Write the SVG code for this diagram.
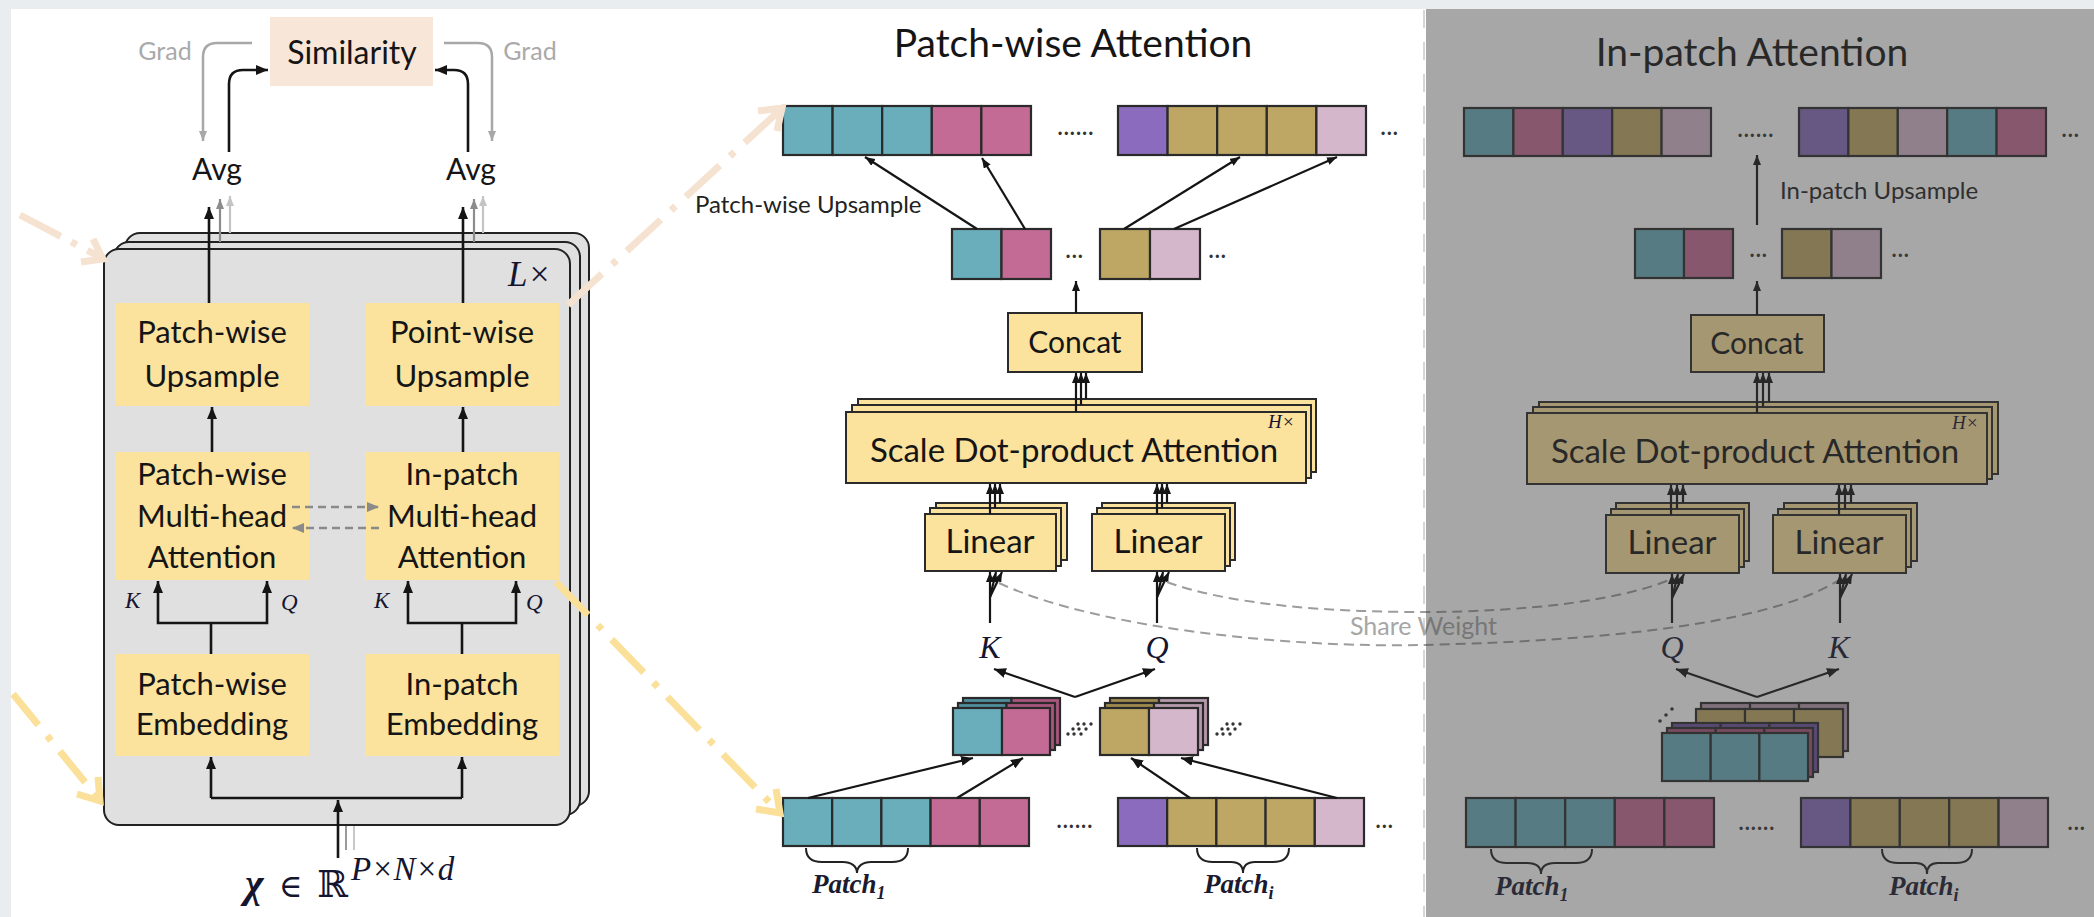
<svg xmlns="http://www.w3.org/2000/svg" width="2094" height="917" viewBox="0 0 2094 917">
<defs>
<style>
.t{font-family:Lato,"Liberation Sans",sans-serif;fill:#151515;text-anchor:middle}
.m{font-family:"Liberation Serif","DejaVu Serif",serif;font-style:italic;fill:#151530}
.pl{font-family:"Liberation Serif","DejaVu Serif",serif;font-style:italic;font-weight:bold;fill:#1a1a30;font-size:27px}
.yb{fill:#fbe29d}
.yl{fill:#fbe29d;stroke:#2a2a2a;stroke-width:2}
.cl{stroke:#2a2a2a;stroke-width:2.2}
.teal{fill:#6aaebc}.pink{fill:#c46b95}.purp{fill:#8a6bbd}.olive{fill:#bea764}.lp{fill:#d5b7cc}
.teal2{fill:#4f8e9a}.pink2{fill:#a8567d}.olive2{fill:#9f8a4e}.lp2{fill:#b49aac}.purp2{fill:#6f54a0}
.ln{stroke:#151515;stroke-width:2.6;fill:none}
.lm{stroke:#151515;stroke-width:2.2;fill:none}
.br{stroke:#222;stroke-width:2;fill:none}
.dd{fill:#333}
.dots{font-family:Lato,"Liberation Sans",sans-serif;fill:#333;font-size:26px}
</style>
<marker id="ah" markerUnits="userSpaceOnUse" markerWidth="12" markerHeight="10" refX="12" refY="5" orient="auto"><path d="M0,0 L12,5 L0,10 z" fill="#151515"/></marker>
<marker id="ahs" markerUnits="userSpaceOnUse" markerWidth="10" markerHeight="8" refX="10" refY="4" orient="auto"><path d="M0,0 L10,4 L0,8 z" fill="#151515"/></marker>
<marker id="ahg" markerUnits="userSpaceOnUse" markerWidth="10" markerHeight="8" refX="10" refY="4" orient="auto"><path d="M0,0 L10,4 L0,8 z" fill="#a8a8a8"/></marker>
<marker id="ahg2" markerUnits="userSpaceOnUse" markerWidth="12" markerHeight="10" refX="12" refY="5" orient="auto"><path d="M0,0 L12,5 L0,10 z" fill="#8a8a8a"/></marker>
<marker id="ahm" markerUnits="userSpaceOnUse" markerWidth="10" markerHeight="8" refX="10" refY="4" orient="auto"><path d="M0,0 L10,4 L0,8 z" fill="#8c8c8c"/></marker>
<marker id="ahl" markerUnits="userSpaceOnUse" markerWidth="10" markerHeight="8" refX="10" refY="4" orient="auto"><path d="M0,0 L10,4 L0,8 z" fill="#c4c4c4"/></marker>
</defs>

<rect x="0" y="0" width="2094" height="917" fill="#e9edf0"/>
<rect x="11" y="9" width="2083" height="908" fill="#ffffff"/>
<line x1="1424" y1="10" x2="1424" y2="917" stroke="#d6d6d6" stroke-width="2" stroke-dasharray="18 14"/>

<!-- ============ LEFT PANEL ============ -->
<g id="similarity">
<rect x="270" y="17" width="163" height="69" fill="#f8e6d8"/>
<text class="t" x="352" y="64" font-size="32">Similarity</text>
</g>
<g id="grad-left"><text class="t" x="165" y="60" font-size="25" style="fill:#a9a9a9">Grad</text></g>
<g id="grad-right"><text class="t" x="530" y="60" font-size="25" style="fill:#a9a9a9">Grad</text></g>
<g id="avg-left"><text class="t" x="217" y="180" font-size="30">Avg</text></g>
<g id="avg-right"><text class="t" x="471" y="180" font-size="30">Avg</text></g>

<g id="encoder-stack">
<rect x="125" y="233" width="464" height="573" rx="15" fill="#e0e0e0" stroke="#222" stroke-width="2"/>
<rect x="114" y="242" width="466" height="573" rx="15" fill="#e0e0e0" stroke="#222" stroke-width="2"/>
<line x1="346" y1="850" x2="346" y2="826" stroke="#9a9a9a" stroke-width="2"/>
<line x1="354" y1="850" x2="354" y2="826" stroke="#c8c8c8" stroke-width="2"/>
<rect x="104" y="249" width="466" height="576" rx="15" fill="#e0e0e0" stroke="#222" stroke-width="2"/>
<text class="m" x="508" y="286" font-size="35">L×</text>
</g>

<g id="patchwise-upsample">
<rect class="yb" x="115" y="303" width="194" height="103"/>
<text class="t" x="212" y="343" font-size="31">Patch-wise</text>
<text class="t" x="212" y="387" font-size="31">Upsample</text>
</g>
<g id="pointwise-upsample">
<rect class="yb" x="365" y="303" width="194" height="103"/>
<text class="t" x="462" y="343" font-size="31">Point-wise</text>
<text class="t" x="462" y="387" font-size="31">Upsample</text>
</g>
<g id="patchwise-mha">
<rect class="yb" x="115" y="452" width="194" height="128"/>
<text class="t" x="212" y="485" font-size="31">Patch-wise</text>
<text class="t" x="212" y="527" font-size="31">Multi-head</text>
<text class="t" x="212" y="568" font-size="31">Attention</text>
</g>
<g id="inpatch-mha">
<rect class="yb" x="365" y="452" width="194" height="128"/>
<text class="t" x="462" y="485" font-size="31">In-patch</text>
<text class="t" x="462" y="527" font-size="31">Multi-head</text>
<text class="t" x="462" y="568" font-size="31">Attention</text>
</g>
<g id="patchwise-embedding">
<rect class="yb" x="115" y="654" width="194" height="102"/>
<text class="t" x="212" y="695" font-size="31">Patch-wise</text>
<text class="t" x="212" y="735" font-size="31">Embedding</text>
</g>
<g id="inpatch-embedding">
<rect class="yb" x="365" y="654" width="194" height="102"/>
<text class="t" x="462" y="695" font-size="31">In-patch</text>
<text class="t" x="462" y="735" font-size="31">Embedding</text>
</g>
<g id="kq-left-labels">
<text class="m" x="125" y="608" font-size="23">K</text>
<text class="m" x="281" y="610" font-size="23">Q</text>
<text class="m" x="374" y="608" font-size="23">K</text>
<text class="m" x="526" y="610" font-size="23">Q</text>
</g>
<g id="input-x">
<text x="245" y="897" font-family="Liberation Serif,DejaVu Serif,serif" font-size="40" font-style="italic" font-weight="bold" fill="#151530">χ</text>
<text x="279" y="897" font-family="DejaVu Serif,serif" font-size="32" fill="#151530">∈</text>
<text x="317" y="897" font-family="DejaVu Serif,serif" font-size="37" fill="#151530">ℝ</text>
<text class="m" x="351" y="880" font-size="33">P×N×d</text>
</g>

<!-- ============ MIDDLE PANEL ============ -->
<g id="title-patchwise"><text class="t" x="1073" y="57" font-size="39">Patch-wise Attention</text></g>

<g id="pw-top-row">
<rect class="cl teal" x="783" y="106" width="49.6" height="49"/>
<rect class="cl teal" x="832.6" y="106" width="49.6" height="49"/>
<rect class="cl teal" x="882.2" y="106" width="49.6" height="49"/>
<rect class="cl pink" x="931.8" y="106" width="49.6" height="49"/>
<rect class="cl pink" x="981.4" y="106" width="49.6" height="49"/>
<text class="dots" x="1057" y="135">......</text>
<rect class="cl purp" x="1118" y="106" width="49.6" height="49"/>
<rect class="cl olive" x="1167.6" y="106" width="49.6" height="49"/>
<rect class="cl olive" x="1217.2" y="106" width="49.6" height="49"/>
<rect class="cl olive" x="1266.8" y="106" width="49.6" height="49"/>
<rect class="cl lp" x="1316.4" y="106" width="49.6" height="49"/>
<text class="dots" x="1380" y="135">...</text>
</g>
<g id="pw-label"><text class="t" x="695" y="213" font-size="24" style="text-anchor:start;fill:#222">Patch-wise Upsample</text></g>
<g id="pw-mid-row">
<rect class="cl teal" x="952" y="229" width="49.5" height="50"/>
<rect class="cl pink" x="1001.5" y="229" width="49.5" height="50"/>
<text class="dots" x="1065" y="258">...</text>
<rect class="cl olive" x="1100" y="229" width="50" height="50"/>
<rect class="cl lp" x="1150" y="229" width="50" height="50"/>
<text class="dots" x="1208" y="258">...</text>
</g>
<g id="pw-concat">
<rect class="yl" x="1008" y="313" width="134" height="59"/>
<text class="t" x="1075" y="353" font-size="30">Concat</text>
</g>
<g id="pw-sdpa">
<rect class="yl" x="858" y="399" width="458" height="73"/>
<rect class="yl" x="852" y="405" width="459" height="73"/>
<rect class="yl" x="846" y="412" width="460" height="71"/>
<text class="m" x="1268" y="428" font-size="19">H×</text>
<text class="t" x="1074" y="462" font-size="33">Scale Dot-product Attention</text>
</g>
<g id="pw-linear-k">
<rect class="yl" x="936" y="503" width="131" height="57"/>
<rect class="yl" x="930" y="508" width="131" height="58"/>
<rect class="yl" x="925" y="514" width="131" height="57"/>
<text class="t" x="990" y="553" font-size="33">Linear</text>
</g>
<g id="pw-linear-q">
<rect class="yl" x="1102" y="503" width="133" height="57"/>
<rect class="yl" x="1097" y="508" width="133" height="58"/>
<rect class="yl" x="1092" y="514" width="133" height="57"/>
<text class="t" x="1158" y="553" font-size="33">Linear</text>
</g>
<g id="pw-kq">
<text class="m" x="990" y="658" font-size="32" text-anchor="middle">K</text>
<text class="m" x="1157" y="658" font-size="32" text-anchor="middle">Q</text>
</g>
<g id="pw-cubes">
<rect class="cl teal2" x="963" y="698" width="48.5" height="47"/>
<rect class="cl pink2" x="1011.5" y="698" width="48.5" height="47"/>
<rect class="cl teal2" x="958" y="703" width="48.5" height="47"/>
<rect class="cl pink2" x="1006.5" y="703" width="48.5" height="47"/>
<rect class="cl teal" x="953" y="708" width="49" height="47"/>
<rect class="cl pink" x="1002" y="708" width="48" height="47"/>
<circle class="dd" cx="1078" cy="724" r="1.7"/><circle class="dd" cx="1084" cy="724" r="1.7"/><circle class="dd" cx="1091" cy="724" r="1.7"/>
<circle class="dd" cx="1073" cy="729" r="1.7"/><circle class="dd" cx="1079" cy="729" r="1.7"/><circle class="dd" cx="1086" cy="729" r="1.7"/>
<circle class="dd" cx="1068" cy="734" r="1.7"/><circle class="dd" cx="1074" cy="734" r="1.7"/><circle class="dd" cx="1081" cy="734" r="1.7"/>
<rect class="cl olive2" x="1110" y="698" width="49" height="47"/>
<rect class="cl lp2" x="1159" y="698" width="49" height="47"/>
<rect class="cl olive2" x="1105" y="703" width="49" height="47"/>
<rect class="cl lp2" x="1154" y="703" width="49" height="47"/>
<rect class="cl olive" x="1100" y="708" width="49" height="47"/>
<rect class="cl lp" x="1149" y="708" width="49" height="47"/>
<circle class="dd" cx="1227" cy="724" r="1.7"/><circle class="dd" cx="1233" cy="724" r="1.7"/><circle class="dd" cx="1240" cy="724" r="1.7"/>
<circle class="dd" cx="1222" cy="729" r="1.7"/><circle class="dd" cx="1228" cy="729" r="1.7"/><circle class="dd" cx="1235" cy="729" r="1.7"/>
<circle class="dd" cx="1217" cy="734" r="1.7"/><circle class="dd" cx="1223" cy="734" r="1.7"/><circle class="dd" cx="1230" cy="734" r="1.7"/>
</g>
<g id="pw-bottom-row">
<rect class="cl teal" x="783" y="798" width="49.2" height="48"/>
<rect class="cl teal" x="832.2" y="798" width="49.2" height="48"/>
<rect class="cl teal" x="881.4" y="798" width="49.2" height="48"/>
<rect class="cl pink" x="930.6" y="798" width="49.2" height="48"/>
<rect class="cl pink" x="979.8" y="798" width="49.2" height="48"/>
<text class="dots" x="1056" y="828">......</text>
<rect class="cl purp" x="1118" y="798" width="49.2" height="48"/>
<rect class="cl olive" x="1167.2" y="798" width="49.2" height="48"/>
<rect class="cl olive" x="1216.4" y="798" width="49.2" height="48"/>
<rect class="cl olive" x="1265.6" y="798" width="49.2" height="48"/>
<rect class="cl lp" x="1314.8" y="798" width="49.2" height="48"/>
<text class="dots" x="1375" y="828">...</text>
<path class="br" d="M806,848 C806,858 812,862 822,862 L843,862 C851,862 857,866 857,873 C857,866 863,862 871,862 L892,862 C902,862 908,858 908,848"/>
<path class="br" d="M1197,848 C1197,858 1203,862 1213,862 L1231,862 C1239,862 1243,866 1243,873 C1243,866 1247,862 1255,862 L1273,862 C1283,862 1289,858 1289,848"/>
<text class="pl" x="812" y="893">Patch<tspan font-size="18" dy="6">1</tspan></text>
<text class="pl" x="1204" y="893">Patch<tspan font-size="18" dy="6">i</tspan></text>
</g>

<!-- ============ RIGHT PANEL ============ -->
<g id="title-inpatch"><text class="t" x="1752" y="66" font-size="39">In-patch Attention</text></g>
<g id="ip-top-row">
<rect class="cl teal" x="1464" y="108" width="49.4" height="48"/>
<rect class="cl pink" x="1513.4" y="108" width="49.4" height="48"/>
<rect class="cl purp" x="1562.8" y="108" width="49.4" height="48"/>
<rect class="cl olive" x="1612.2" y="108" width="49.4" height="48"/>
<rect class="cl lp" x="1661.6" y="108" width="49.4" height="48"/>
<text class="dots" x="1737" y="137">......</text>
<rect class="cl purp" x="1799" y="108" width="49.4" height="48"/>
<rect class="cl olive" x="1848.4" y="108" width="49.4" height="48"/>
<rect class="cl lp" x="1897.8" y="108" width="49.4" height="48"/>
<rect class="cl teal" x="1947.2" y="108" width="49.4" height="48"/>
<rect class="cl pink" x="1996.6" y="108" width="49.4" height="48"/>
<text class="dots" x="2061" y="137">...</text>
</g>
<g id="ip-label"><text class="t" x="1780" y="199" font-size="24" style="text-anchor:start;fill:#222">In-patch Upsample</text></g>
<g id="ip-mid-row">
<rect class="cl teal" x="1635" y="229" width="49" height="49"/>
<rect class="cl pink" x="1684" y="229" width="49" height="49"/>
<text class="dots" x="1749" y="257">...</text>
<rect class="cl olive" x="1782" y="229" width="49.5" height="49"/>
<rect class="cl lp" x="1831.5" y="229" width="49.5" height="49"/>
<text class="dots" x="1891" y="257">...</text>
</g>
<g id="ip-concat">
<rect class="yl" x="1691" y="315" width="133" height="57"/>
<text class="t" x="1757" y="354" font-size="30">Concat</text>
</g>
<g id="ip-sdpa">
<rect class="yl" x="1539" y="402" width="459" height="72"/>
<rect class="yl" x="1533" y="407" width="459" height="72"/>
<rect class="yl" x="1527" y="413" width="460" height="71"/>
<text class="m" x="1952" y="429" font-size="19">H×</text>
<text class="t" x="1755" y="463" font-size="33">Scale Dot-product Attention</text>
</g>
<g id="ip-linear-q">
<rect class="yl" x="1616" y="503" width="133" height="58"/>
<rect class="yl" x="1611" y="509" width="133" height="58"/>
<rect class="yl" x="1606" y="515" width="133" height="58"/>
<text class="t" x="1672" y="554" font-size="33">Linear</text>
</g>
<g id="ip-linear-k">
<rect class="yl" x="1784" y="503" width="133" height="58"/>
<rect class="yl" x="1778" y="509" width="133" height="58"/>
<rect class="yl" x="1773" y="515" width="133" height="58"/>
<text class="t" x="1839" y="554" font-size="33">Linear</text>
</g>
<g id="ip-qk">
<text class="m" x="1672" y="658" font-size="32" text-anchor="middle">Q</text>
<text class="m" x="1839" y="658" font-size="32" text-anchor="middle">K</text>
</g>
<g id="ip-cubes">
<rect class="cl lp2" x="1701" y="703" width="49" height="48"/>
<rect class="cl lp2" x="1750" y="703" width="49" height="48"/>
<rect class="cl lp2" x="1799" y="703" width="49" height="48"/>
<rect class="cl olive" x="1696" y="709" width="49" height="48"/>
<rect class="cl olive" x="1745" y="709" width="49" height="48"/>
<rect class="cl olive" x="1794" y="709" width="49" height="48"/>
<circle class="dd" cx="1660" cy="721" r="1.8"/><circle class="dd" cx="1666" cy="715" r="1.8"/><circle class="dd" cx="1672" cy="709" r="1.8"/>
<rect class="cl purp2" x="1672" y="723" width="48.7" height="49"/>
<rect class="cl purp2" x="1720.7" y="723" width="48.7" height="49"/>
<rect class="cl purp2" x="1769.4" y="723" width="48.6" height="49"/>
<rect class="cl pink2" x="1667" y="728" width="48.7" height="49"/>
<rect class="cl pink2" x="1715.7" y="728" width="48.7" height="49"/>
<rect class="cl pink2" x="1764.4" y="728" width="48.6" height="49"/>
<rect class="cl teal" x="1662" y="733" width="48.7" height="48"/>
<rect class="cl teal" x="1710.7" y="733" width="48.7" height="48"/>
<rect class="cl teal" x="1759.4" y="733" width="48.6" height="48"/>
</g>
<g id="ip-bottom-row">
<rect class="cl teal" x="1466" y="798" width="49.6" height="49"/>
<rect class="cl teal" x="1515.6" y="798" width="49.6" height="49"/>
<rect class="cl teal" x="1565.2" y="798" width="49.6" height="49"/>
<rect class="cl pink" x="1614.8" y="798" width="49.6" height="49"/>
<rect class="cl pink" x="1664.4" y="798" width="49.6" height="49"/>
<text class="dots" x="1738" y="830">......</text>
<rect class="cl purp" x="1801" y="798" width="49.4" height="49"/>
<rect class="cl olive" x="1850.4" y="798" width="49.4" height="49"/>
<rect class="cl olive" x="1899.8" y="798" width="49.4" height="49"/>
<rect class="cl olive" x="1949.2" y="798" width="49.4" height="49"/>
<rect class="cl lp" x="1998.6" y="798" width="49.4" height="49"/>
<text class="dots" x="2067" y="830">...</text>
<path class="br" d="M1491,849 C1491,859 1497,863 1507,863 L1527,863 C1536,863 1541,867 1541,874 C1541,867 1546,863 1555,863 L1576,863 C1586,863 1592,859 1592,849"/>
<path class="br" d="M1882,849 C1882,859 1888,863 1898,863 L1916,863 C1923,863 1927,867 1927,874 C1927,867 1931,863 1938,863 L1956,863 C1966,863 1972,859 1972,849"/>
<text class="pl" x="1495" y="895">Patch<tspan font-size="18" dy="6">1</tspan></text>
<text class="pl" x="1889" y="895">Patch<tspan font-size="18" dy="6">i</tspan></text>
</g>

<!-- ============ CONNECTORS ============ -->
<g id="connectors">
<path class="ln" d="M229,152 V84 Q229,70 243,70 H268" marker-end="url(#ah)"/>
<path class="ln" d="M468,152 V84 Q468,70 454,70 H435" marker-end="url(#ah)"/>
<path d="M252,43 H217 Q203,43 203,57 V141" stroke="#a8a8a8" stroke-width="2.5" fill="none" marker-end="url(#ahg)"/>
<path d="M444,43 H478 Q492,43 492,57 V141" stroke="#a8a8a8" stroke-width="2.5" fill="none" marker-end="url(#ahg)"/>
<path class="ln" d="M209,303 V207" marker-end="url(#ah)"/>
<path d="M220,242 V199" stroke="#8c8c8c" stroke-width="2.2" marker-end="url(#ahm)"/>
<path d="M230,233 V196" stroke="#c4c4c4" stroke-width="2.2" marker-end="url(#ahl)"/>
<path class="ln" d="M463,303 V207" marker-end="url(#ah)"/>
<path d="M474,242 V199" stroke="#8c8c8c" stroke-width="2.2" marker-end="url(#ahm)"/>
<path d="M483,233 V196" stroke="#c4c4c4" stroke-width="2.2" marker-end="url(#ahl)"/>
<path class="ln" d="M212,452 V407" marker-end="url(#ah)"/>
<path class="ln" d="M463,452 V407" marker-end="url(#ah)"/>
<path d="M292,507 H379" stroke="#8a8a8a" stroke-width="2.6" stroke-dasharray="8 5" fill="none" marker-end="url(#ahg2)"/>
<path d="M379,528 H292" stroke="#8a8a8a" stroke-width="2.6" stroke-dasharray="8 5" fill="none" marker-end="url(#ahg2)"/>
<path class="ln" d="M211,654 V623"/>
<path class="ln" d="M211,623 H158 V581" marker-end="url(#ah)"/>
<path class="ln" d="M211,623 H267 V581" marker-end="url(#ah)"/>
<path class="ln" d="M462,654 V623"/>
<path class="ln" d="M462,623 H408 V581" marker-end="url(#ah)"/>
<path class="ln" d="M462,623 H516 V581" marker-end="url(#ah)"/>
<path class="ln" d="M211,798 H462"/>
<path class="ln" d="M211,798 V757" marker-end="url(#ah)"/>
<path class="ln" d="M462,798 V757" marker-end="url(#ah)"/>
<path class="ln" d="M338,858 V800" marker-end="url(#ah)"/>

<g fill="none" stroke-linecap="butt">
<path d="M20,215 L100,257" stroke="#f6e2d0" stroke-width="7" stroke-dasharray="46 12 6 12"/>
<path d="M93,239 L103,259 L81,262" stroke="#f6e2d0" stroke-width="7"/>
<path d="M568,305 L779,111" stroke="#f6e2d0" stroke-width="7" stroke-dasharray="46 14 6 14"/>
<path d="M758,111 L782,108 L777,131" stroke="#f6e2d0" stroke-width="7"/>
<path d="M13,694 L98,798" stroke="#fbe09a" stroke-width="7" stroke-dasharray="40 14 6 14"/>
<path d="M98,777 L100,801 L77,794" stroke="#fbe09a" stroke-width="7"/>
<path d="M556,582 L777,810" stroke="#fbe09a" stroke-width="7" stroke-dasharray="46 14 6 14"/>
<path d="M776,789 L780,813 L756,809" stroke="#fbe09a" stroke-width="7"/>
</g>

<path class="lm" d="M977,229 L865,157" marker-end="url(#ahs)"/>
<path class="lm" d="M1025,229 L982,158" marker-end="url(#ahs)"/>
<path class="lm" d="M1124,229 L1240,157" marker-end="url(#ahs)"/>
<path class="lm" d="M1174,229 L1337,157" marker-end="url(#ahs)"/>
<path class="lm" d="M1076,313 V281" marker-end="url(#ahs)"/>
<path class="lm" d="M1076,412 V373" marker-end="url(#ahs)" stroke-width="1.6"/>
<path class="lm" d="M1081,405 V373" marker-end="url(#ahs)" stroke-width="1.6"/>
<path class="lm" d="M1086,399 V373" marker-end="url(#ahs)" stroke-width="1.6"/>
<path class="lm" d="M990,514 V484" marker-end="url(#ahs)" stroke-width="1.6"/>
<path class="lm" d="M995,508 V484" marker-end="url(#ahs)" stroke-width="1.6"/>
<path class="lm" d="M1000,503 V484" marker-end="url(#ahs)" stroke-width="1.6"/>
<path class="lm" d="M1157,514 V484" marker-end="url(#ahs)" stroke-width="1.6"/>
<path class="lm" d="M1162,508 V484" marker-end="url(#ahs)" stroke-width="1.6"/>
<path class="lm" d="M1167,503 V484" marker-end="url(#ahs)" stroke-width="1.6"/>
<path class="lm" d="M990,623 V572" marker-end="url(#ahs)"/>
<path class="lm" d="M990,597 L996,572" marker-end="url(#ahs)" stroke-width="1.5"/>
<path class="lm" d="M990,597 L1002,572" marker-end="url(#ahs)" stroke-width="1.5"/>
<path class="lm" d="M1157,623 V572" marker-end="url(#ahs)"/>
<path class="lm" d="M1157,597 L1163,572" marker-end="url(#ahs)" stroke-width="1.5"/>
<path class="lm" d="M1157,597 L1169,572" marker-end="url(#ahs)" stroke-width="1.5"/>
<path class="lm" d="M1075,697 L994,669" marker-end="url(#ah)"/>
<path class="lm" d="M1075,697 L1155,669" marker-end="url(#ah)"/>
<path class="lm" d="M808,798 L973,758" marker-end="url(#ah)"/>
<path class="lm" d="M957,798 L1023,758" marker-end="url(#ah)"/>
<path class="lm" d="M1190,798 L1131,758" marker-end="url(#ah)"/>
<path class="lm" d="M1337,798 L1181,758" marker-end="url(#ah)"/>

<path d="M999,583 C1100,630 1300,648 1420,645 C1560,642 1760,630 1839,580" stroke="#9c9c9c" stroke-width="2" stroke-dasharray="10 6" fill="none"/>
<path d="M1167,582 C1230,605 1330,612 1420,612 C1530,612 1620,600 1669,580" stroke="#9c9c9c" stroke-width="2" stroke-dasharray="10 6" fill="none"/>
<text class="t" x="1350" y="635" font-size="25" style="text-anchor:start;fill:#a6a6a6">Share Weight</text>

<path class="lm" d="M1757,225 V155" marker-end="url(#ahs)"/>
<path class="lm" d="M1757,315 V281" marker-end="url(#ahs)"/>
<path class="lm" d="M1757,413 V373" marker-end="url(#ahs)" stroke-width="1.6"/>
<path class="lm" d="M1763,407 V373" marker-end="url(#ahs)" stroke-width="1.6"/>
<path class="lm" d="M1769,402 V373" marker-end="url(#ahs)" stroke-width="1.6"/>
<path class="lm" d="M1671,515 V485" marker-end="url(#ahs)" stroke-width="1.6"/>
<path class="lm" d="M1677,509 V485" marker-end="url(#ahs)" stroke-width="1.6"/>
<path class="lm" d="M1683,503 V485" marker-end="url(#ahs)" stroke-width="1.6"/>
<path class="lm" d="M1839,515 V485" marker-end="url(#ahs)" stroke-width="1.6"/>
<path class="lm" d="M1845,509 V485" marker-end="url(#ahs)" stroke-width="1.6"/>
<path class="lm" d="M1851,503 V485" marker-end="url(#ahs)" stroke-width="1.6"/>
<path class="lm" d="M1672,623 V574" marker-end="url(#ahs)"/>
<path class="lm" d="M1672,598 L1678,574" marker-end="url(#ahs)" stroke-width="1.5"/>
<path class="lm" d="M1672,598 L1684,574" marker-end="url(#ahs)" stroke-width="1.5"/>
<path class="lm" d="M1840,623 V574" marker-end="url(#ahs)"/>
<path class="lm" d="M1840,598 L1846,574" marker-end="url(#ahs)" stroke-width="1.5"/>
<path class="lm" d="M1840,598 L1852,574" marker-end="url(#ahs)" stroke-width="1.5"/>
<path class="lm" d="M1757,697 L1676,669" marker-end="url(#ah)"/>
<path class="lm" d="M1757,697 L1839,669" marker-end="url(#ah)"/>
</g>

<g id="inpatch-overlay">
<rect x="1426" y="9" width="668" height="908" fill="#3f3f3f" opacity="0.46"/>
</g>
</svg>
